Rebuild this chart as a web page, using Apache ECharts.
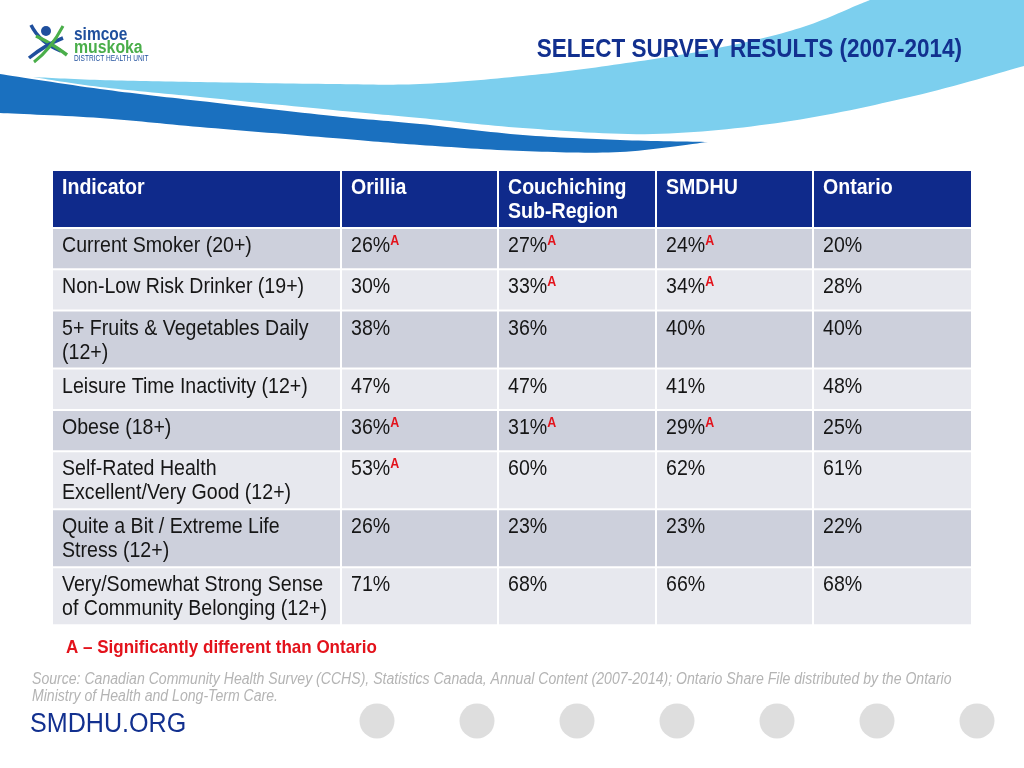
<!DOCTYPE html>
<html><head><meta charset="utf-8">
<script src="https://cdn.jsdelivr.net/npm/echarts@6/dist/echarts.min.js"></script>
<style>html,body{margin:0;padding:0;background:#fff}#c{width:1024px;height:768px}</style>
</head><body><div id="c"></div>
<script>
// ---------- data ----------
const title = 'SELECT SURVEY RESULTS (2007-2014)';
const columns = ['Indicator', 'Orillia', 'Couchiching\nSub-Region', 'SMDHU', 'Ontario'];
const indicators = [
  'Current Smoker (20+)',
  'Non-Low Risk Drinker (19+)',
  '5+ Fruits & Vegetables Daily\n(12+)',
  'Leisure Time Inactivity (12+)',
  'Obese (18+)',
  'Self-Rated Health\nExcellent/Very Good (12+)',
  'Quite a Bit / Extreme Life\nStress (12+)',
  'Very/Somewhat Strong Sense\nof Community Belonging (12+)'
];
const orillia     = [26, 30, 38, 47, 36, 53, 26, 71];
const couchiching = [27, 33, 36, 47, 31, 60, 23, 68];
const smdhu       = [24, 34, 40, 41, 29, 62, 23, 66];
const ontario     = [20, 28, 40, 48, 25, 61, 22, 68];
// 1 = significantly different than Ontario ("A")
const orilliaSig     = [1, 0, 0, 0, 1, 1, 0, 0];
const couchichingSig = [1, 1, 0, 0, 1, 0, 0, 0];
const smdhuSig       = [1, 1, 0, 0, 1, 0, 0, 0];
const ontarioSig     = [0, 0, 0, 0, 0, 0, 0, 0];
const footnote = 'A \u2013 Significantly different than Ontario';
const sourceNote = 'Source: Canadian Community Health Survey (CCHS), Statistics Canada, Annual Content (2007-2014); Ontario Share File distributed by the Ontario\nMinistry of Health and Long-Term Care.';
const siteLabel = 'SMDHU.ORG';

// ---------- layout / style (not data) ----------
const FONT = '"Liberation Sans", Arial, Helvetica, sans-serif';
const SQUEEZE = 0.89;
const colWidths = [289, 157, 158, 157, 159];
const lineCount = s => s.split('\n').length;
const rowHeightFor = n => (n >= 2 ? 58 : 41.3);
const valueCols = [orillia, couchiching, smdhu, ontario];
const sigCols = [orilliaSig, couchichingSig, smdhuSig, ontarioSig];

const rowHeights = [rowHeightFor(Math.max(...columns.map(lineCount)))]
  .concat(indicators.map(s => rowHeightFor(lineCount(s))));
const rowStart = []; let acc = 0;
rowHeights.forEach(h => { rowStart.push(acc); acc += h; });
const totalH = acc;
const colStart = []; let cacc = 0;
colWidths.forEach(w => { colStart.push(cacc); cacc += w; });
const totalW = cacc;

function cellText(c, r) {
  if (r === 0) return columns[c];
  if (c === 0) return indicators[r - 1];
  const v = valueCols[c - 1][r - 1];
  return v + '%' + (sigCols[c - 1][r - 1] ? '{sup|A}' : '');
}

const cells = [];
for (let r = 0; r <= indicators.length; r++) {
  for (let c = 0; c < columns.length; c++) cells.push([c, r]);
}

const HEADER_BG = '#0f2a8b';
const ROW_DARK = '#cdd0dc';
const ROW_LIGHT = '#e7e8ee';

function renderCell(params, api) {
  const c = api.value(0), r = api.value(1);
  const p0 = api.coord([colStart[c], rowStart[r]]);
  const p1 = api.coord([colStart[c] + colWidths[c], rowStart[r] + rowHeights[r]]);
  const fill = r === 0 ? HEADER_BG : (r % 2 === 1 ? ROW_DARK : ROW_LIGHT);
  return {
    type: 'group',
    children: [
      { type: 'rect', shape: { x: p0[0] + 1, y: p0[1] + 1, width: p1[0] - p0[0] - 2, height: p1[1] - p0[1] - 2 },
        style: { fill: fill } },
      { type: 'text', x: p0[0] + 10, y: p0[1] + 6, scaleX: SQUEEZE,
        style: {
          text: cellText(c, r), x: 0, y: 0,
          fill: r === 0 ? '#ffffff' : '#161616',
          fontSize: 22, fontFamily: FONT, fontWeight: r === 0 ? 'bold' : 'normal',
          lineHeight: 24, align: 'left', verticalAlign: 'top',
          rich: { sup: { fill: '#e3121b', fontSize: 14, fontWeight: 'bold', fontFamily: FONT, lineHeight: 8, verticalAlign: 'top' } }
        } }
    ]
  };
}

// ---------- decorations ----------
// Catmull-Rom smoothing of an open list of guide points
function smoothLine(pts) {
  const out = [];
  for (let i = 0; i < pts.length - 1; i++) {
    const p0 = pts[Math.max(0, i - 1)], p1 = pts[i], p2 = pts[i + 1], p3 = pts[Math.min(pts.length - 1, i + 2)];
    for (let k = 0; k < 16; k++) {
      const t = k / 16, t2 = t * t, t3 = t2 * t;
      out.push([0, 1].map(d => 0.5 * ((2 * p1[d]) + (-p0[d] + p2[d]) * t +
        (2 * p0[d] - 5 * p1[d] + 4 * p2[d] - p3[d]) * t2 + (-p0[d] + 3 * p1[d] - 3 * p2[d] + p3[d]) * t3)));
    }
  }
  out.push(pts[pts.length - 1].slice());
  return out;
}
const lightTop = [[33, 77], [100, 80], [200, 82], [333, 84], [420, 84], [523, 76], [620, 64], [718, 48], [800, 28], [860, 4], [870, 0]];
const lightBottom = [[33, 77], [100, 87], [200, 97], [333, 110], [420, 118], [523, 128], [653, 134], [784, 122], [914, 96], [1024, 66]];
const darkTop = [[0, 74], [100, 89], [200, 101], [333, 116], [420, 124], [523, 135], [620, 140], [708, 142]];
const darkBottom = [[0, 113], [100, 118], [200, 127], [333, 138], [420, 145], [523, 151], [620, 152], [708, 142]];
const lightPoly = smoothLine(lightTop).concat([[1024, 0]], smoothLine(lightBottom).reverse());
const darkPoly = smoothLine(darkTop).concat(smoothLine(darkBottom).reverse());

const graphics = [
  { type: 'polygon', shape: { points: darkPoly }, style: { fill: '#1a70bf' } },
  { type: 'polygon', shape: { points: lightPoly }, style: { fill: '#7ccfee' } },
  // logo
  { type: 'circle', shape: { cx: 46, cy: 31, r: 5 }, style: { fill: '#1f4f9d' } },
  { type: 'bezierCurve', shape: { x1: 31, y1: 25, cpx1: 40, cpy1: 43, x2: 61, y2: 51 }, style: { stroke: '#1f4f9d', lineWidth: 3.5, fill: null } },
  { type: 'bezierCurve', shape: { x1: 36, y1: 36, cpx1: 53, cpy1: 44, x2: 67, y2: 55 }, style: { stroke: '#4aae4a', lineWidth: 3.5, fill: null } },
  { type: 'bezierCurve', shape: { x1: 29, y1: 58, cpx1: 45, cpy1: 45, x2: 63, y2: 38 }, style: { stroke: '#1f4f9d', lineWidth: 3.5, fill: null } },
  { type: 'bezierCurve', shape: { x1: 34, y1: 62, cpx1: 51, cpy1: 49, x2: 63, y2: 26 }, style: { stroke: '#4aae4a', lineWidth: 3, fill: null } },
  { type: 'text', x: 74, y: 35, scaleX: 0.86, style: { text: 'simcoe', fill: '#1f4f9d', fontSize: 18, fontWeight: 'bold', fontFamily: FONT, verticalAlign: 'middle' } },
  { type: 'text', x: 74, y: 48, scaleX: 0.88, style: { text: 'muskoka', fill: '#4aae4a', fontSize: 18, fontWeight: 'bold', fontFamily: FONT, verticalAlign: 'middle' } },
  { type: 'text', x: 74, y: 58.5, scaleX: 0.77, style: { text: 'DISTRICT HEALTH UNIT', fill: '#1f4f9d', fontSize: 8.5, fontFamily: FONT, verticalAlign: 'middle' } },
  // title
  { type: 'text', x: 962, y: 50, scaleX: 0.865, style: { text: title, fill: '#12308f', fontSize: 26, fontWeight: 'bold', fontFamily: FONT, align: 'right', verticalAlign: 'middle' } },
  // footnote
  { type: 'text', x: 66, y: 648, scaleX: 0.895, style: { text: footnote, fill: '#e3121b', fontSize: 19, fontWeight: 'bold', fontFamily: FONT, verticalAlign: 'middle' } },
  { type: 'text', x: 32, y: 671, scaleX: 0.88, style: { text: sourceNote, fill: '#b4b4b4', fontSize: 16, fontStyle: 'italic', fontFamily: FONT, lineHeight: 17, verticalAlign: 'top' } },
  { type: 'text', x: 30, y: 725, scaleX: 0.93, style: { text: siteLabel, fill: '#12308f', fontSize: 27, fontFamily: FONT, verticalAlign: 'middle' } }
];
for (let i = 0; i < 7; i++) {
  graphics.push({ type: 'circle', shape: { cx: 377 + 100 * i, cy: 721, r: 17.5 }, style: { fill: '#dedede' } });
}

const chart = echarts.init(document.getElementById('c'), null, { renderer: 'canvas' });
chart.setOption({
  backgroundColor: '#ffffff',
  animation: false,
  graphic: { elements: graphics },
  grid: { left: 52, top: 170, width: totalW, height: totalH },
  xAxis: { type: 'value', min: 0, max: totalW, show: false },
  yAxis: { type: 'value', min: 0, max: totalH, inverse: true, show: false },
  series: [{
    type: 'custom',
    silent: true,
    renderItem: renderCell,
    data: cells,
    clip: false
  }]
});
</script>
</body></html>
